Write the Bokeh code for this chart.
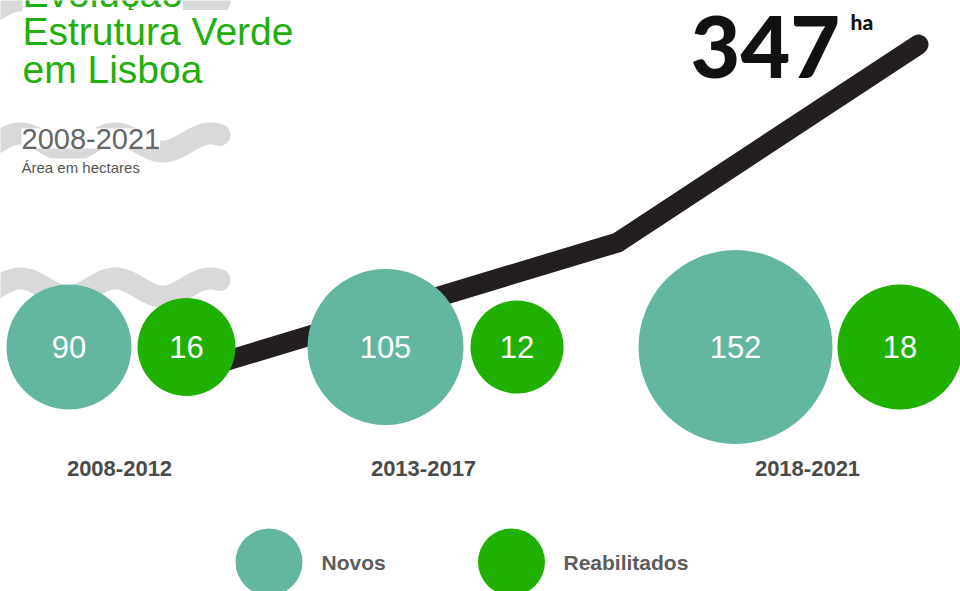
import numpy as np
from bokeh.plotting import figure
from bokeh.models import Range1d, ColumnDataSource
from bokeh.core.properties import value
from bokeh.embed import file_html
from bokeh.resources import INLINE

# ---------------- data ----------------
periods = ["2008-2012", "2013-2017", "2018-2021"]
novos = [90, 105, 152]
reabilitados = [16, 12, 18]
series_names = ["Novos", "Reabilitados"]

title_lines = ["Evolução", "Estrutura Verde", "em Lisboa"]
subtitle = "2008-2021"
unit_note = "Área em hectares"
unit_short = "ha"

cumulative_novos = list(np.cumsum(novos))   # 90, 195, 347
total_novos = str(cumulative_novos[-1])

# ---------------- layout / style (screen px) ----------------
W, H = 960, 591
novos_cx = [68.5, 385, 735]
reab_cx = [186, 516.5, 899.5]
novos_r = [62.5, 78, 97]
reab_r = [49, 46.5, 62.5]
bubble_cy = 346.5
period_cx = [119, 423, 807]
period_cy = 468
line_x = [165, 617, 918]
legend_cx = [268.5, 511]
legend_tx = [321, 563]
legend_cy = 561.5
legend_r = 33.5

TEAL = "#63b6a0"
GREEN = "#20b000"
TITLE_GREEN = "#22ae0c"
WAVE = "#d9d9d9"
INK = "#231f20"
FONT = "Liberation Sans"

p = figure(width=W, height=H,
           x_range=Range1d(0, W), y_range=Range1d(H, 0),
           output_backend="svg", toolbar_location=None, min_border=0,
           x_axis_type=None, y_axis_type=None)
p.outline_line_color = None
p.background_fill_color = "white"
p.border_fill_color = "white"
p.xgrid.grid_line_color = None
p.ygrid.grid_line_color = None

# cumulative scale for the black line
p.extra_y_ranges = {"cum": Range1d(start=-72.9, end=380.8)}

# decorative grey waves
wave_c = [9, 142, 287]
wx = np.linspace(-25, 219, 240)
for c in wave_c:
    wy = c - 9 * np.cos(2 * np.pi * (wx - 20) / 95)
    p.line(wx, wy, line_width=22, line_color=WAVE, line_cap="round")

# cumulative line
p.line(line_x, cumulative_novos, y_range_name="cum", line_width=20,
       line_color=INK, line_cap="round", line_join="miter")

# bubbles
src_n = ColumnDataSource(dict(x=novos_cx, y=[bubble_cy] * 3, r=novos_r,
                              t=[str(v) for v in novos]))
src_r = ColumnDataSource(dict(x=reab_cx, y=[bubble_cy] * 3, r=reab_r,
                              t=[str(v) for v in reabilitados]))
for src, col in ((src_n, TEAL), (src_r, GREEN)):
    p.circle(x="x", y="y", radius="r", radius_units="screen",
             fill_color=col, line_color=None, source=src)
    p.text(x="x", y="y", text="t", text_color="white",
           text_font=value(FONT), text_font_size="31px",
           text_align="center", text_baseline="middle", source=src)

# period labels
p.text(x=period_cx, y=[period_cy] * 3, text=periods,
       text_color="#4a4a4a", text_font=value(FONT),
       text_font_style="bold", text_font_size="22px",
       text_align="center", text_baseline="middle")

# legend
p.circle(x=legend_cx, y=[legend_cy] * 2, radius=legend_r, radius_units="screen",
         fill_color=[TEAL, GREEN], line_color=None)
p.text(x=legend_tx, y=[legend_cy] * 2, text=series_names,
       text_color="#5c5c5c", text_font=value(FONT), text_font_style="bold",
       text_font_size="21px", text_align="left", text_baseline="middle")

# titles (white box behind text hides the waves)
p.text(x=[22] * 3, y=[-7, 31, 69], text=title_lines, text_font=value(FONT),
       text_font_size="39px", text_color=TITLE_GREEN,
       text_baseline="middle", text_align="left",
       background_fill_color="white")
p.text(x=[21], y=[138], text=[subtitle], text_font=value(FONT),
       text_font_size="29px", text_color="#666666",
       text_baseline="middle", text_align="left",
       background_fill_color="white")
p.text(x=[21], y=[166.5], text=[unit_note], text_font=value(FONT),
       text_font_size="15px", text_color="#555555",
       text_baseline="middle", text_align="left",
       background_fill_color="white")

# total
p.text(x=[690], y=[46], text=[total_novos], text_font=value("Lato Black, Lato"),
       text_font_style="bold", text_font_size="86px", text_color="#111111",
       text_baseline="middle", text_align="left")
p.text(x=[850], y=[20.5], text=[unit_short], text_font=value("Lato Black, Lato"),
       text_font_style="bold", text_font_size="21px", text_color="#111111",
       text_baseline="middle", text_align="left")

open("out.html", "w").write(file_html(p, INLINE))
